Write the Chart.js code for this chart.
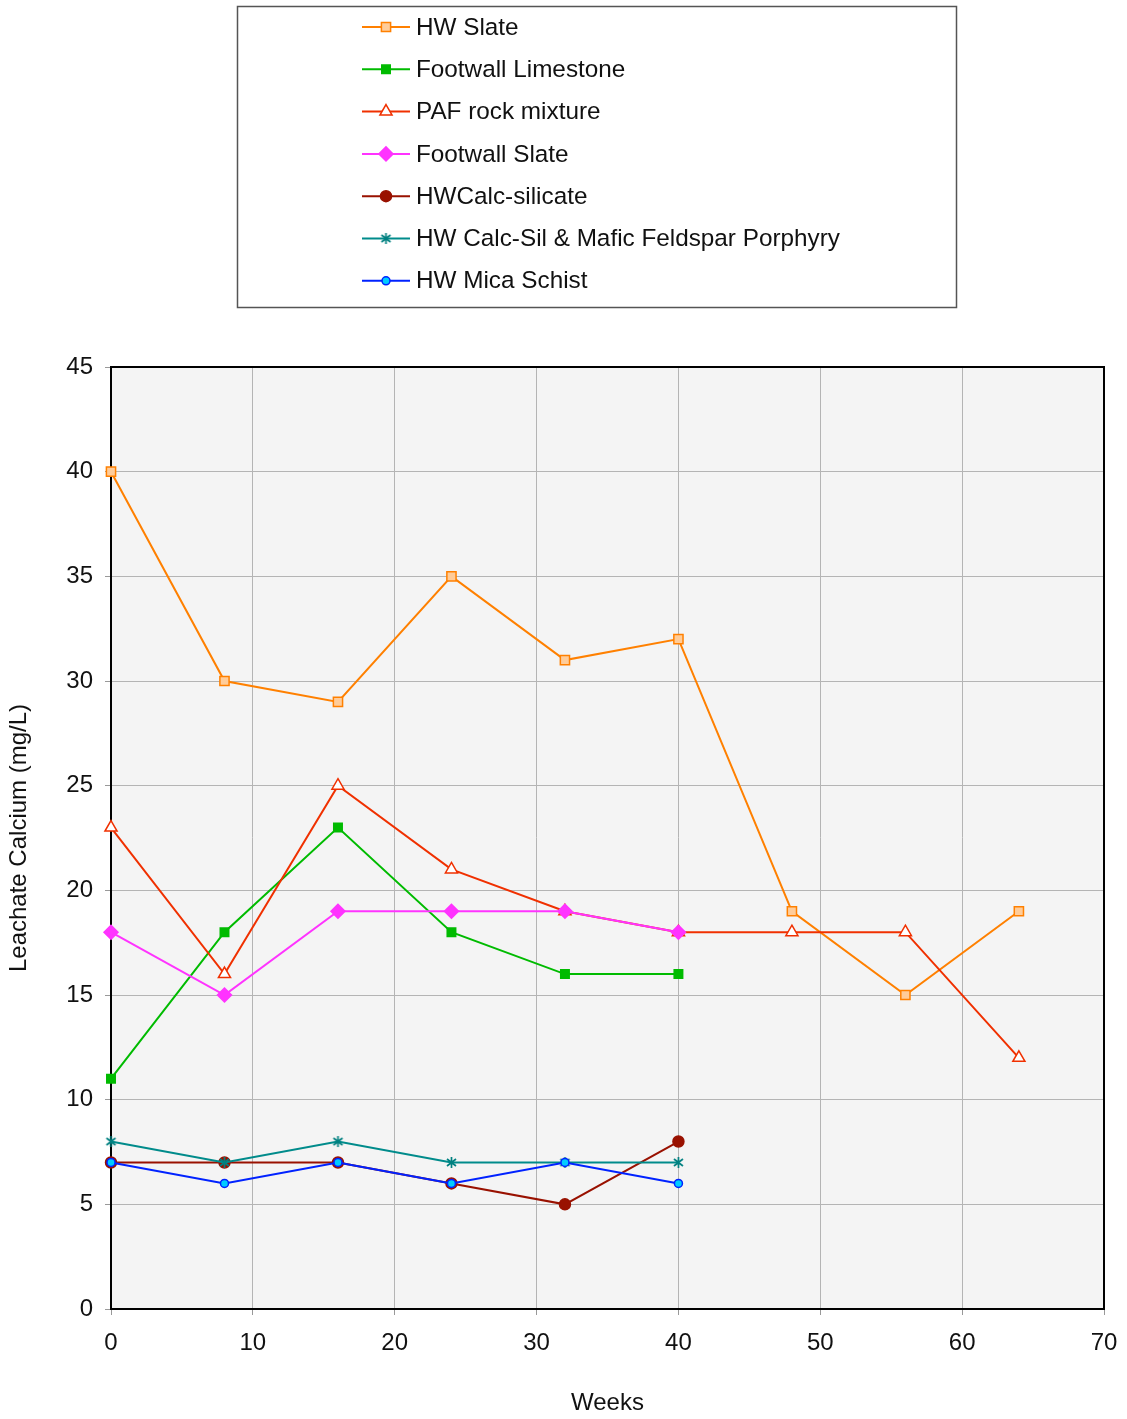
<!DOCTYPE html>
<html>
<head>
<meta charset="utf-8">
<script src="https://cdn.jsdelivr.net/npm/chart.js@4"></script>
<style>
  html, body { margin: 0; padding: 0; background: #fff; }
  #wrap { width: 1127px; height: 1419px; }
</style>
</head>
<body>
<div id="wrap"><canvas id="calciumChart"></canvas></div>
<script>
// weeks sampled
var weeksLong = [0, 8, 16, 24, 32, 40, 48, 56, 64];
var weeksShort = [0, 8, 16, 24, 32, 40];

var seriesNames = ['HW Slate', 'Footwall Limestone', 'PAF rock mixture', 'Footwall Slate',
    'HWCalc-silicate', 'HW Calc-Sil & Mafic Feldspar Porphyry', 'HW Mica Schist'];

var hwSlate = [40, 30, 29, 35, 31, 32, 19, 15, 19];
var footwallLimestone = [11, 18, 23, 18, 16, 16];
var pafRock = [23, 16, 25, 21, 19, 18, 18, 18, 12];
var footwallSlate = [18, 15, 19, 19, 19, 18];
var hwCalcSilicate = [7, 7, 7, 6, 5, 8];
var hwCalcSilMafic = [8, 7, 8, 7, 7, 7];
var hwMicaSchist = [7, 6, 7, 6, 7, 6];

var yTicks = [0, 5, 10, 15, 20, 25, 30, 35, 40, 45];
var xTicks = [0, 10, 20, 30, 40, 50, 60, 70];

var FONT = '"Liberation Sans", Arial, sans-serif';

function pairs(xs, ys) {
    return ys.map(function (v, i) { return { x: xs[i], y: v }; });
}

// asterisk marker: vertical bar plus an X
var star = document.createElement('canvas');
star.width = 13; star.height = 13;
(function () {
    var c = star.getContext('2d');
    c.strokeStyle = '#008080';
    c.lineWidth = 1.7;
    c.beginPath();
    c.moveTo(6.5, 1); c.lineTo(6.5, 12);
    c.moveTo(2, 3); c.lineTo(11, 10);
    c.moveTo(11, 3); c.lineTo(2, 10);
    c.stroke();
})();

var styles = [
    { line: '#FF8000', fill: '#FFCC99', border: '#FF8000', pointStyle: 'rect', radius: 6.5 },
    { line: '#00BB00', fill: '#00BB00', border: '#00BB00', pointStyle: 'rect', radius: 6 },
    { line: '#F03000', fill: '#FFFFFF', border: '#F03000', pointStyle: 'triangle', radius: 7 },
    { line: '#FF33FF', fill: '#FF33FF', border: '#FF33FF', pointStyle: 'rectRot', radius: 7 },
    { line: '#991100', fill: '#991100', border: '#991100', pointStyle: 'circle', radius: 5.5 },
    { line: '#008B8B', fill: '#008B8B', border: '#008B8B', pointStyle: star, radius: 6 },
    { line: '#0022FF', fill: '#00CCFF', border: '#0022FF', pointStyle: 'circle', radius: 4 }
];

var values = [hwSlate, footwallLimestone, pafRock, footwallSlate, hwCalcSilicate, hwCalcSilMafic, hwMicaSchist];

var datasets = values.map(function (vals, i) {
    var s = styles[i];
    return {
        label: seriesNames[i],
        data: pairs(vals.length > 6 ? weeksLong : weeksShort, vals),
        borderColor: s.line,
        borderWidth: 2,
        backgroundColor: s.fill,
        pointBackgroundColor: s.fill,
        pointBorderColor: s.border,
        pointBorderWidth: 1.5,
        pointStyle: s.pointStyle,
        pointRadius: s.radius,
        pointHoverRadius: s.radius,
        tension: 0,
        clip: false,
        order: 10 - i
    };
});

var plotFrame = {
    id: 'plotFrame',
    beforeDraw: function (chart) {
        var a = chart.chartArea, ctx = chart.ctx;
        ctx.save();
        ctx.fillStyle = '#F4F4F4';
        ctx.fillRect(a.left, a.top, a.right - a.left, a.bottom - a.top);
        ctx.restore();
    },
    afterDraw: function (chart) {
        var a = chart.chartArea, ctx = chart.ctx;
        ctx.save();
        ctx.strokeStyle = '#000';
        ctx.lineWidth = 2;
        ctx.beginPath();
        ctx.moveTo(a.left, a.top);
        ctx.lineTo(a.right, a.top);
        ctx.lineTo(a.right, a.bottom);
        ctx.stroke();

        // legend box
        ctx.fillStyle = '#fff';
        ctx.fillRect(237, 6, 719, 301);
        ctx.strokeStyle = '#555';
        ctx.lineWidth = 1.5;
        ctx.strokeRect(237.5, 6.5, 719, 301);
        ctx.font = '24.3px ' + FONT;
        ctx.textBaseline = 'middle';
        chart.data.datasets.forEach(function (ds, i) {
            var y = 27 + i * 42.3;
            ctx.strokeStyle = ds.borderColor;
            ctx.lineWidth = 2;
            ctx.beginPath();
            ctx.moveTo(362, y);
            ctx.lineTo(410, y);
            ctx.stroke();
            ctx.fillStyle = ds.pointBackgroundColor;
            ctx.strokeStyle = ds.pointBorderColor;
            ctx.lineWidth = ds.pointBorderWidth;
            Chart.helpers.drawPoint(ctx, {
                pointStyle: ds.pointStyle,
                radius: ds.pointRadius,
                borderWidth: ds.pointBorderWidth,
                rotation: 0
            }, 386, y);
            ctx.fillStyle = '#111';
            ctx.fillText(ds.label, 416, y + 1);
        });
        ctx.restore();
    }
};

var ctx = document.getElementById('calciumChart').getContext('2d');
var calciumChart = new Chart(ctx, {
    type: 'line',
    data: { datasets: datasets },
    options: {
        responsive: true,
        maintainAspectRatio: false,
        animation: false,
        events: [],
        layout: { padding: { top: 367, right: 23, left: 0, bottom: 0 } },
        plugins: {
            legend: { display: false },
            tooltip: { enabled: false }
        },
        scales: {
            x: {
                type: 'linear',
                min: 0,
                max: 70,
                afterBuildTicks: function (scale) {
                    scale.ticks = xTicks.map(function (v) { return { value: v }; });
                },
                afterFit: function (scale) {
                    scale.height = 110;
                    scale.paddingLeft = 0;
                    scale.paddingRight = 0;
                },
                grid: { color: '#B4B4B4', lineWidth: 1, tickLength: 6, tickColor: '#999' },
                border: { color: '#000', width: 2 },
                ticks: {
                    padding: 14,
                    color: '#111',
                    font: { family: FONT, size: 24 }
                },
                title: {
                    display: true,
                    text: 'Weeks',
                    color: '#111',
                    padding: { top: 1, bottom: 1 },
                    font: { family: FONT, size: 24 }
                }
            },
            y: {
                min: 0,
                max: 45,
                afterBuildTicks: function (scale) {
                    scale.ticks = yTicks.map(function (v) { return { value: v }; });
                },
                afterFit: function (scale) {
                    scale.width = 111;
                    scale.paddingTop = 0;
                    scale.paddingBottom = 0;
                },
                grid: { color: '#B4B4B4', lineWidth: 1, tickLength: 6, tickColor: '#999' },
                border: { color: '#000', width: 2 },
                ticks: {
                    padding: 12,
                    color: '#111',
                    font: { family: FONT, size: 24 }
                },
                title: {
                    display: true,
                    text: 'Leachate Calcium (mg/L)',
                    color: '#111',
                    padding: { top: 5, bottom: 5 },
                    font: { family: FONT, size: 24 }
                }
            }
        }
    },
    plugins: [plotFrame]
});
</script>
</body>
</html>
